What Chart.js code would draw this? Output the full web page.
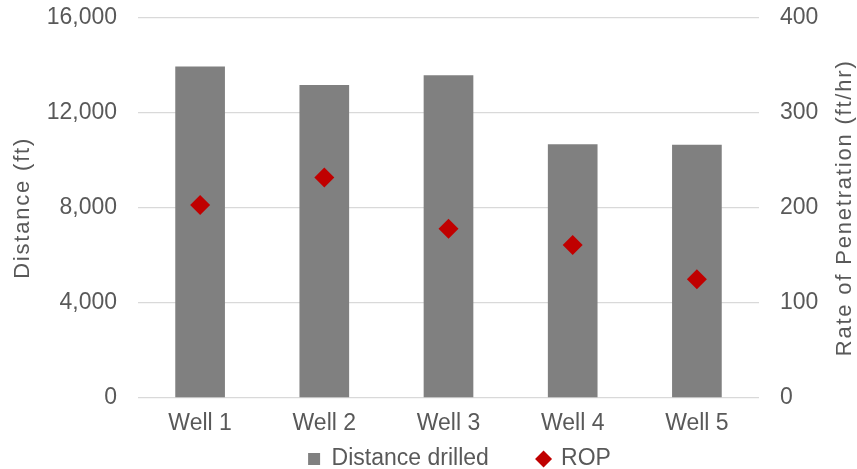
<!DOCTYPE html>
<html>
<head>
<meta charset="utf-8">
<script src="https://cdn.jsdelivr.net/npm/chart.js@4.4.1/dist/chart.umd.min.js"></script>
<style>
  html, body { margin: 0; padding: 0; background: #fff; }
  #wrap { width: 857px; height: 469px; }
</style>
</head>
<body>
<div id="wrap"><canvas id="wellChart"></canvas></div>
<script>
const wells = ["Well 1", "Well 2", "Well 3", "Well 4", "Well 5"];
const distanceDrilled = [13950, 13170, 13580, 10680, 10660];
const ropValues = [203, 232, 178, 161, 125];
const distanceTicks = [0, 4000, 8000, 12000, 16000];
const ropTicks = [0, 100, 200, 300, 400];

const leftTitle = "Distance (ft)";
const rightTitle = "Rate of Penetration (ft/hr)";
const textColor = "#595959";
const font = "'Liberation Sans', Arial, sans-serif";

// Excel draws both axis titles bottom-to-top with a bit of letter spacing
const axisTitles = {
  id: "axisTitles",
  afterDraw(chart) {
    const { ctx, chartArea } = chart;
    const midY = (chartArea.top + chartArea.bottom) / 2;
    ctx.save();
    ctx.font = `22px ${font}`;
    ctx.fillStyle = textColor;
    ctx.textAlign = "center";
    ctx.textBaseline = "middle";
    ctx.letterSpacing = "1.8px";
    [[23, leftTitle], [845, rightTitle]].forEach(([x, t]) => {
      ctx.save();
      ctx.translate(x, midY);
      ctx.rotate(-Math.PI / 2);
      ctx.fillText(t, 0, 0);
      ctx.restore();
    });
    ctx.restore();
  },
};

// invisible tick marks give the label gap without inflating the top padding
const hiddenTicks = { drawTicks: true, tickLength: 21, tickColor: "rgba(0,0,0,0)" };

new Chart(document.getElementById("wellChart"), {
  data: {
    labels: wells,
    datasets: [
      {
        type: "bar",
        label: "Distance drilled",
        data: distanceDrilled,
        backgroundColor: "#808080",
        borderWidth: 0,
        pointStyle: "rect",
        barPercentage: 0.4,
        categoryPercentage: 1,
        yAxisID: "y",
        order: 2,
      },
      {
        type: "line",
        label: "ROP",
        data: ropValues,
        showLine: false,
        backgroundColor: "#C00000",
        borderColor: "#C00000",
        borderWidth: 0,
        pointStyle: "rectRot",
        pointRadius: 10,
        pointBorderWidth: 0,
        yAxisID: "y1",
        order: 1,
      },
    ],
  },
  options: {
    responsive: true,
    maintainAspectRatio: false,
    animation: false,
    // right padding < 0 so the bottom legend centres where Excel put it
    layout: { padding: { top: 17.7, left: 0, right: -62, bottom: -11.5 } },
    scales: {
      x: {
        grid: { display: false, drawTicks: false, tickLength: 0 },
        border: { display: false },
        ticks: { color: textColor, font: { size: 23, family: font }, padding: 12 },
        afterFit: (s) => { s.height = 45.5; },
      },
      y: {
        position: "left",
        min: distanceTicks[0],
        max: distanceTicks[distanceTicks.length - 1],
        grid: { color: "#d9d9d9", lineWidth: 1.3, ...hiddenTicks },
        border: { display: false },
        ticks: { stepSize: distanceTicks[1] - distanceTicks[0], color: textColor, font: { size: 23, family: font }, padding: 0 },
        afterFit: (s) => { s.width = 138; },
      },
      y1: {
        position: "right",
        min: ropTicks[0],
        max: ropTicks[ropTicks.length - 1],
        grid: { display: false, ...hiddenTicks },
        border: { display: false },
        ticks: { stepSize: ropTicks[1] - ropTicks[0], color: textColor, font: { size: 23, family: font }, padding: 0 },
        afterFit: (s) => { s.width = 160; },
      },
    },
    plugins: {
      tooltip: { enabled: false },
      legend: {
        position: "bottom",
        labels: {
          color: textColor,
          font: { size: 23, family: font },
          usePointStyle: true,
          boxWidth: 12,
          boxHeight: 12,
          padding: 4,
          sort: (a, b) => a.datasetIndex - b.datasetIndex,
          generateLabels(chart) {
            const items = Chart.defaults.plugins.legend.labels.generateLabels(chart);
            items.forEach((it) => { if (it.datasetIndex === 0) it.text += "       "; });
            return items;
          },
        },
      },
    },
  },
  plugins: [axisTitles],
});
</script>
</body>
</html>
